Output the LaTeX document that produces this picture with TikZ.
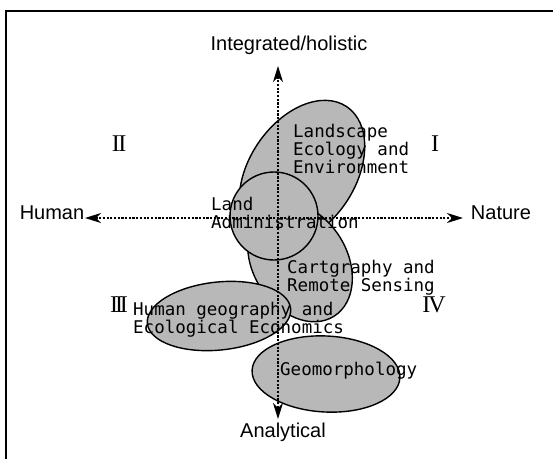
\documentclass[tikz,border=0pt]{standalone}
\usepackage{fontspec}
\setmainfont{Liberation Sans}
\newfontfamily\gothmono{DejaVu Sans Mono}
\newfontfamily\romnum{Liberation Serif}
\usetikzlibrary{shapes.geometric,arrows.meta}

\begin{document}
\begin{tikzpicture}[x=1pt, y=-1pt,
    >={Stealth[length=16pt,width=10pt,inset=5pt]},
    field/.style={draw, ellipse, line width=1.4pt, fill=black!28, inner sep=0pt},
    area/.style={font=\gothmono\fontsize{17.5}{16.5}\selectfont, align=left, anchor=north west, inner sep=0pt},
    quad/.style={font=\romnum\fontsize{24}{24}\selectfont, inner sep=0pt},
    pole/.style={font=\fontsize{20}{20}\selectfont, inner sep=0pt},
    axis/.style={<->, line width=1.3pt, dash pattern=on 2.2pt off 1.5pt}]
  \useasboundingbox (0,0) rectangle (553,459);
  % frame
  \draw[line width=2.5pt] (6,459) -- (6,11) -- (553,11);
  % fields
  \node[field, minimum width=160pt, minimum height=106pt, rotate=56] (lsc) at (302,173) {};
  \node[field, minimum width=128pt, minimum height=94pt, rotate=-58] (carto) at (300,262) {};
  \node[field, minimum width=144pt, minimum height=68pt, rotate=6] (hg) at (219,316) {};
  \node[field, minimum width=148pt, minimum height=76pt, rotate=-3] (geo) at (326,374) {};
  \node[field, circle, minimum size=88pt] (land) at (274,216) {};
  % axes
  \coordinate (w) at (85,218);
  \coordinate (e) at (463,218);
  \coordinate (n) at (278,66);
  \coordinate (s) at (278,419);
  \draw[axis] (w) -- (e);
  \draw[axis] (n) -- (s);
  \node[pole] (human) at (52,213) {Human};
  \node[pole] (nature) at (501,213) {Nature};
  \node[pole] (integ) at (289,45) {Integrated/holistic};
  \node[pole] (analyt) at (283,432) {Analytical};
  % quadrants
  \node[quad] (q1) at (435,144) {I};
  \node[quad] (q2) at (119,144) {I\kern-1.5ptI};
  \node[quad] (q3) at (119,305) {I\kern-3ptI\kern-3ptI};
  \node[quad] (q4) at (434,305) {I\kern-2ptV};
  % labels
  \node[area] (lsctext) at (293,124) {Landscape\\Ecology and\\Environment};
  \node[area] (landtext) at (211,197) {Land\\[1.5pt]Administration};
  \node[area] (cartotext) at (287,260) {Cartgraphy and\\Remote Sensing};
  \node[area] (hgtext) at (133,302) {Human geography and\\Ecological Economics};
  \node[area] (geotext) at (280,362) {Geomorphology};
\end{tikzpicture}
\end{document}
